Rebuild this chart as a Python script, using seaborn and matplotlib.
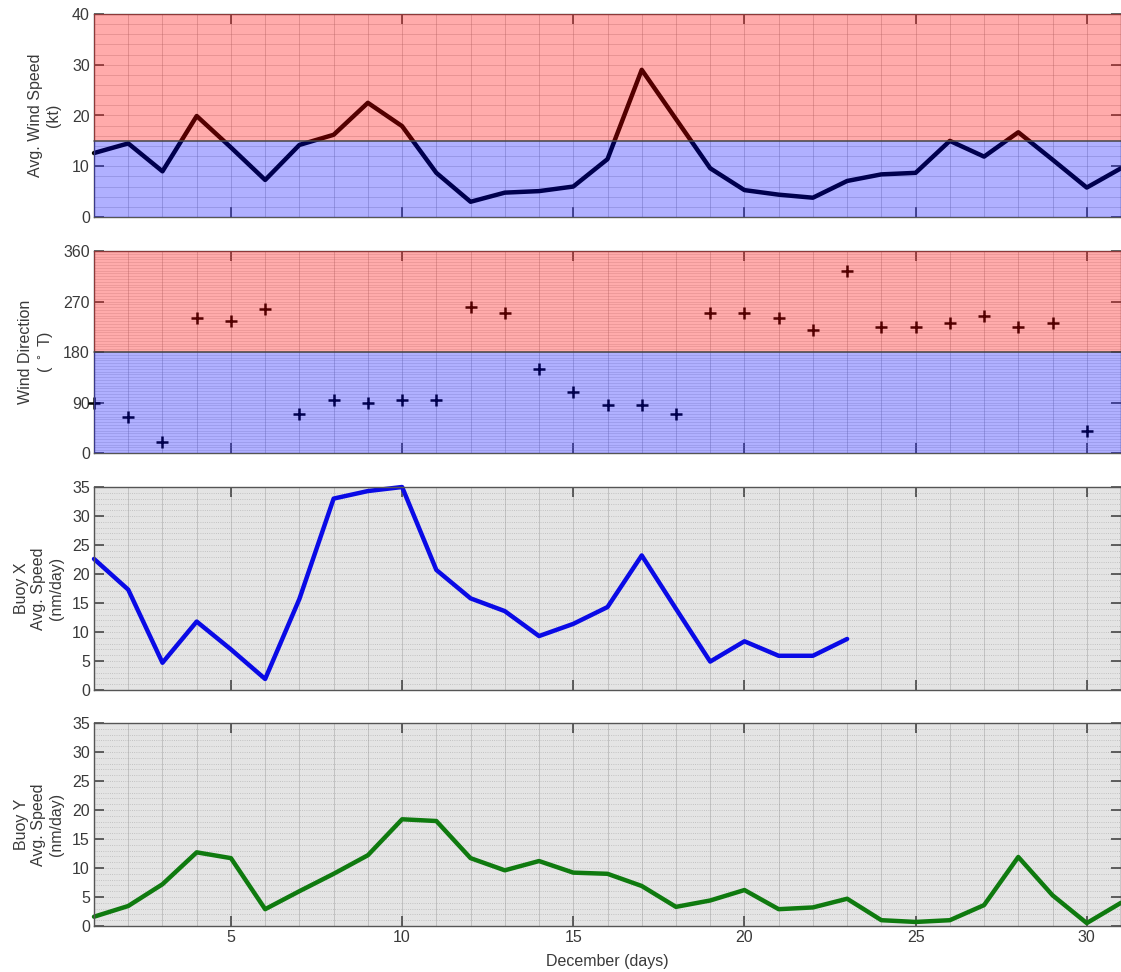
import numpy as np
import pandas as pd
import matplotlib
matplotlib.use("Agg")
import matplotlib.pyplot as plt
from matplotlib.ticker import MultipleLocator
import seaborn as sns

# ---- daily records, December ----
days = list(range(1, 32))

wind_speed = [12.6, 14.5, 9.0, 19.9, 13.7, 7.3, 14.2, 16.2, 22.5, 17.9,
              8.7, 3.0, 4.8, 5.1, 6.0, 11.4, 29.0, 19.3, 9.6, 5.3,
              4.4, 3.8, 7.1, 8.4, 8.7, 15.0, 11.9, 16.7, 11.3, 5.8, 9.6]

dir_days = list(range(1, 31))
wind_dir = [90, 65, 19, 240, 235, 256, 70, 95, 90, 95,
            95, 260, 250, 150, 109, 85, 85, 70, 250, 250,
            240, 220, 325, 225, 225, 231, 245, 225, 231, 40]

buoy_x_days = list(range(1, 24))
buoy_x = [22.6, 17.3, 4.7, 11.8, 7.0, 1.9, 15.7, 33.0, 34.3, 35.0,
          20.7, 15.8, 13.6, 9.3, 11.4, 14.3, 23.2, 14.0, 4.9, 8.4,
          5.9, 5.9, 8.8]

buoy_y = [1.6, 3.45, 7.2, 12.7, 11.7, 2.9, 6.0, 9.0, 12.2, 18.4,
          18.1, 11.7, 9.6, 11.2, 9.2, 9.0, 6.9, 3.3, 4.4, 6.2,
          2.9, 3.2, 4.7, 1.0, 0.7, 1.0, 3.6, 11.9, 5.3, 0.5, 4.0]

speed_threshold = 15
dir_threshold = 180

sns.set_theme(style="white")
plt.rcParams["font.family"] = ["Liberation Sans", "DejaVu Sans"]
plt.rcParams["font.size"] = 11

fig = plt.figure(figsize=(11.21, 9.72), dpi=100)

W, H = 1121.0, 972.0
left = 94 / W
width = 1.0 - left
panels_px = [(14, 217), (251, 453), (487, 690), (723, 926)]
axes = [fig.add_axes([left, 1 - b / H, width, (b - t) / H]) for t, b in panels_px]

tick_color = "#3a3a3a"
label_color = "#3a3a3a"


def style_axes(ax, ymax, ymajor, yminor, hgrid_ls, halpha):
    ax.set_xlim(1, 31)
    ax.set_ylim(0, ymax)
    ax.xaxis.set_major_locator(MultipleLocator(5))
    ax.xaxis.set_minor_locator(MultipleLocator(1))
    ax.yaxis.set_major_locator(MultipleLocator(ymajor))
    ax.yaxis.set_minor_locator(MultipleLocator(yminor))
    ax.set_axisbelow(True)
    ax.grid(which="both", axis="x", color="#8c8c8c", lw=0.6, ls="-", alpha=0.45)
    ax.grid(which="both", axis="y", color="#8c8c8c", lw=0.6, ls=hgrid_ls, alpha=halpha)
    ax.tick_params(which="major", direction="in", length=7, width=1.1,
                   top=True, right=True, bottom=True, left=True,
                   color=tick_color, labelcolor=label_color, labelsize=11.5, pad=3)
    ax.tick_params(which="minor", length=0)
    for s in ax.spines.values():
        s.set_color("#555555")
        s.set_linewidth(1.0)
    ax.set_xlabel("")


# ---- panel 1: wind speed ----
ax = axes[0]
sns.lineplot(x=days, y=wind_speed, ax=ax, color="black", lw=3.2)
style_axes(ax, 40, 10, 2, "-", 0.35)
ax.axhspan(speed_threshold, 40, color="red", alpha=0.33, lw=0, zorder=3)
ax.axhspan(0, speed_threshold, color="blue", alpha=0.31, lw=0, zorder=3)
ax.axhline(speed_threshold, color="#444444", lw=1.1, zorder=4)
ax.set_ylabel("Avg. Wind Speed\n(kt)", color=label_color, fontsize=11.5, labelpad=8)
ax.set_xticklabels([])

# ---- panel 2: wind direction ----
ax = axes[1]
sns.scatterplot(x=dir_days, y=wind_dir, ax=ax, marker="+", s=70,
                color="black", linewidth=1.8, clip_on=False, zorder=2)
style_axes(ax, 360, 90, 5, "-", 0.25)
ax.axhspan(dir_threshold, 360, color="red", alpha=0.33, lw=0, zorder=3)
ax.axhspan(0, dir_threshold, color="blue", alpha=0.31, lw=0, zorder=3)
ax.axhline(dir_threshold, color="#444444", lw=1.1, zorder=4)
ax.set_ylabel("Wind Direction\n( $^\\circ$ T)", color=label_color, fontsize=11.5, labelpad=6)
ax.set_xticklabels([])

# ---- panel 3: buoy X ----
ax = axes[2]
ax.set_facecolor("#e4e4e4")
sns.lineplot(x=buoy_x_days, y=buoy_x, ax=ax, color="#0a0ae6", lw=3.2)
style_axes(ax, 35, 5, 1, ":", 0.5)
ax.set_ylabel("Buoy X\nAvg. Speed\n(nm/day)", color=label_color, fontsize=11.5, labelpad=6)
ax.set_xticklabels([])

# ---- panel 4: buoy Y ----
ax = axes[3]
ax.set_facecolor("#e4e4e4")
sns.lineplot(x=days, y=buoy_y, ax=ax, color="#0f7a0f", lw=3.2)
style_axes(ax, 35, 5, 1, ":", 0.5)
ax.set_ylabel("Buoy Y\nAvg. Speed\n(nm/day)", color=label_color, fontsize=11.5, labelpad=6)
ax.set_xlabel("December (days)", color=label_color, fontsize=11.5, labelpad=6)

for ax in axes:
    for line in ax.get_lines():
        line.set_clip_on(False)

fig.savefig("out.png", dpi=100)
